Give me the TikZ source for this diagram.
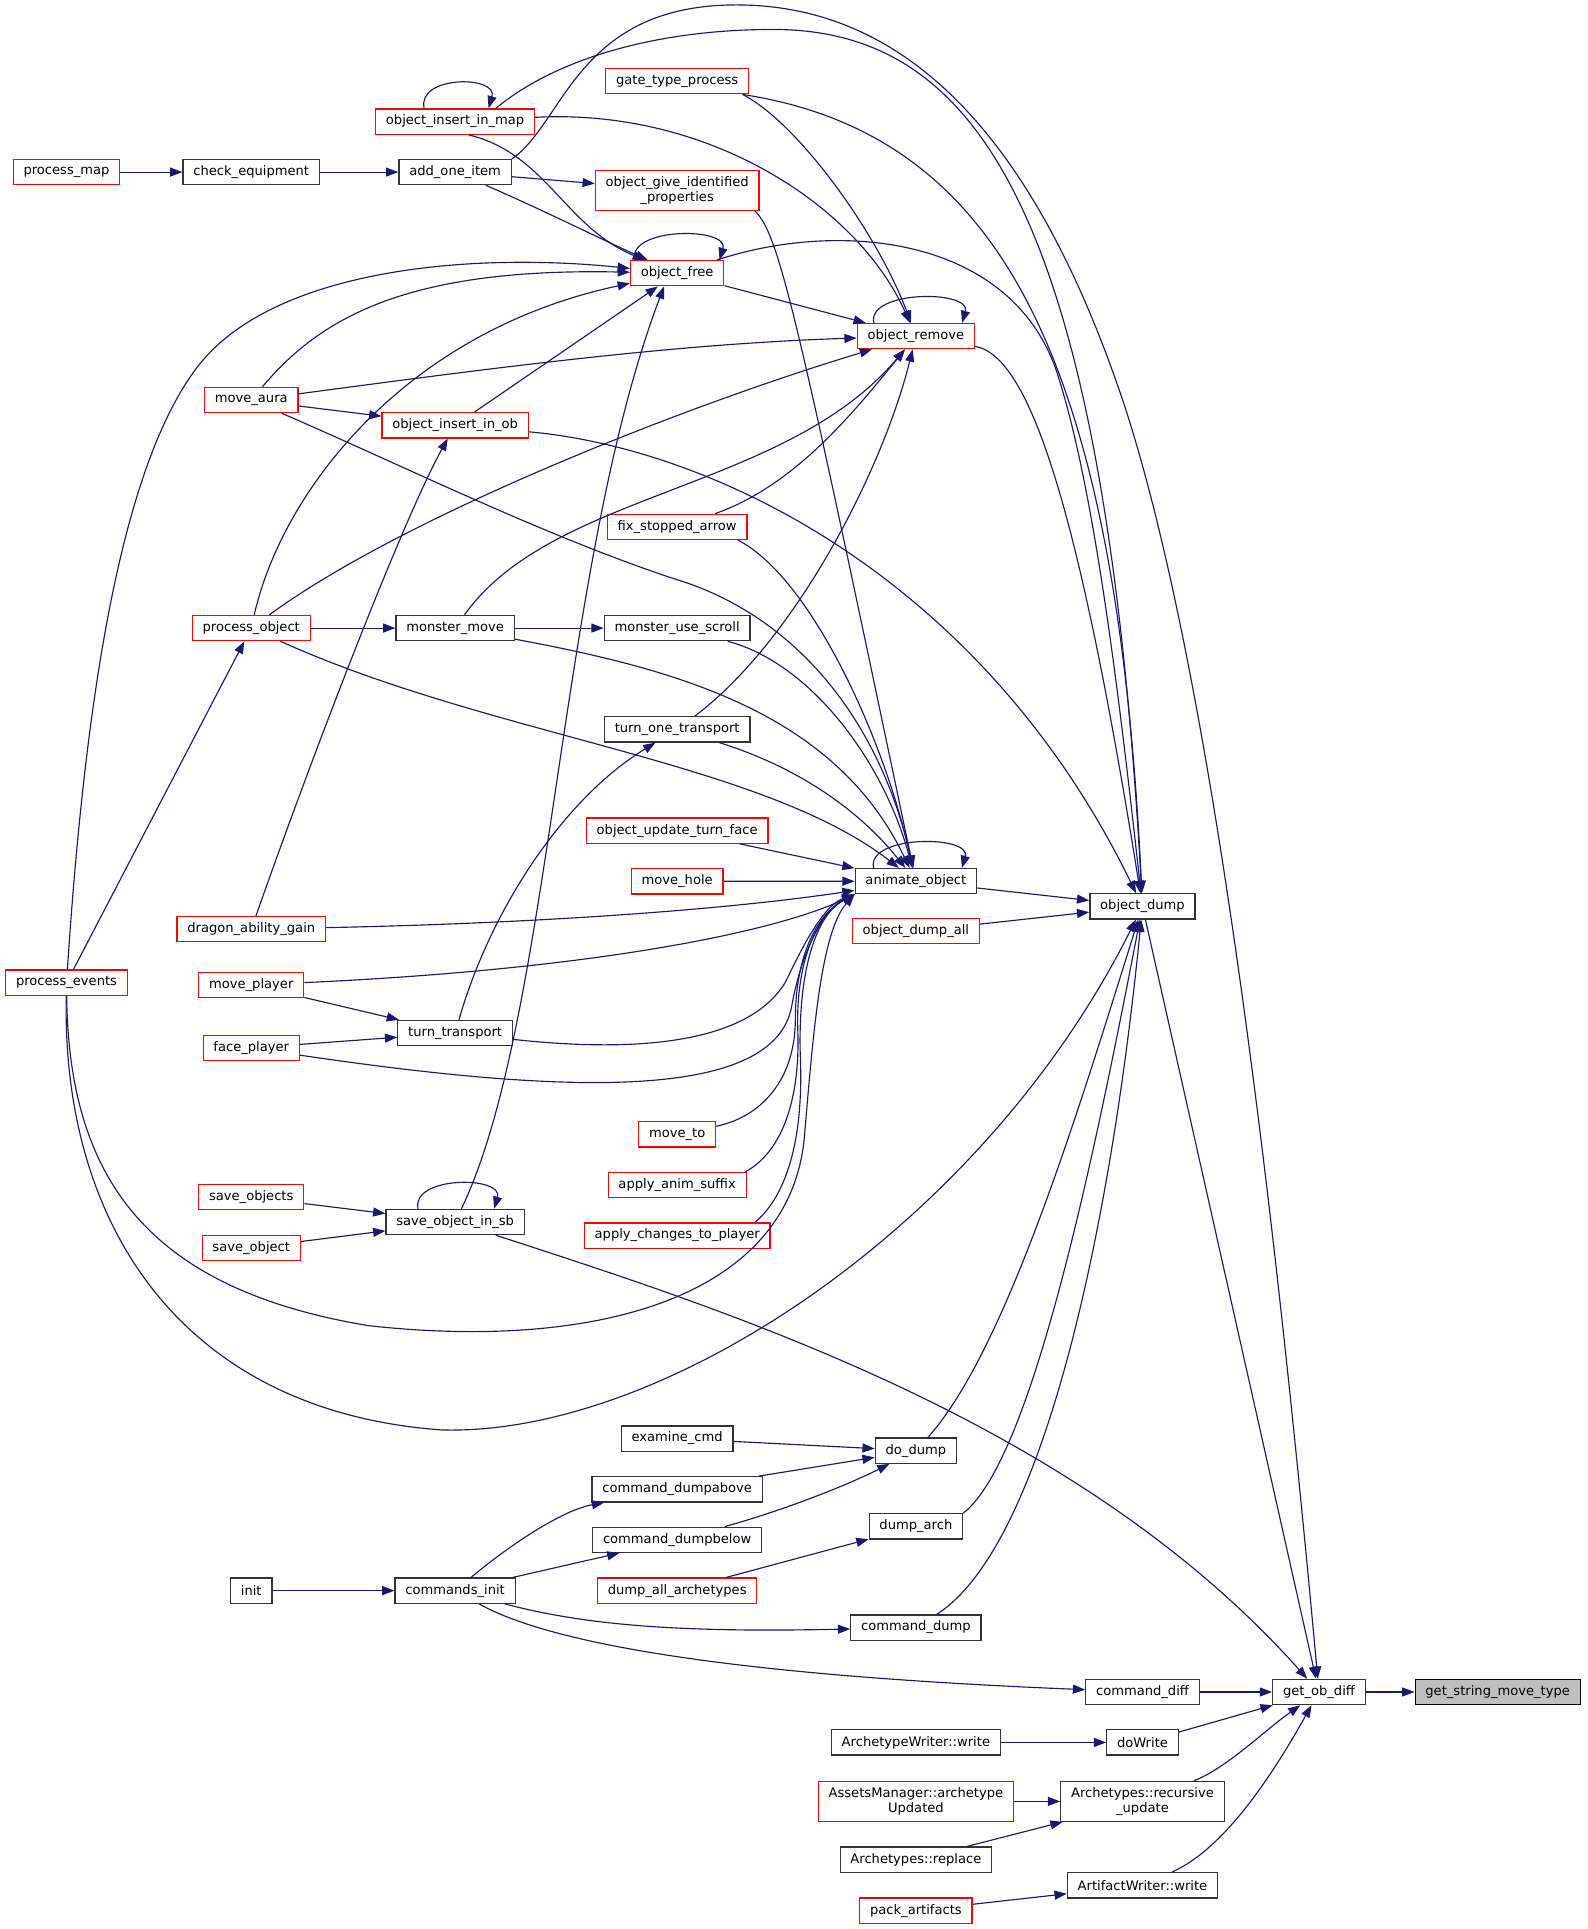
\documentclass[tikz,border=0pt]{standalone}
\usepackage{fontspec}
\newfontfamily\dejavu{DejaVu Sans}
\usetikzlibrary{arrows.meta}
\definecolor{edgeblue}{HTML}{191970}
\definecolor{boxgrey}{HTML}{333333}
\definecolor{rootgrey}{HTML}{BFBFBF}
\tikzset{>={Triangle[length=7.5pt,width=5.5pt]},
  fn/.style={draw=boxgrey, fill=white, line width=0.75pt, align=center,
    font=\dejavu\fontsize{8}{9}\selectfont, inner xsep=6.3pt, inner ysep=0pt,
    minimum height=15.4pt},
  fnred/.style={fn, draw=red},
  fnroot/.style={fn, draw=black, fill=rootgrey},
  call/.style={->, draw=edgeblue, line width=0.7pt}}

\begin{document}
\begin{tikzpicture}[x=0.75pt, y=-0.75pt]
  \useasboundingbox (0,0) rectangle (1293,1571.6);
  % callers, right to left
  \node[fnred] (processmap) at (54.2,140.2) {process\_map};
  \node[fn] (checkequip) at (204.7,140.2) {check\_equipment};
  \node[fn] (addoneitem) at (370.8,140.2) {add\_one\_item};
  \node[fnred] (insmap) at (370.8,99) {object\_insert\_in\_map};
  \node[fnred] (gatetype) at (551.7,66.2) {gate\_type\_process};
  \node[fnred, minimum height=24.3pt] (giveident) at (551.7,155) {object\_give\_identified\\\_properties};
  \node[fnred] (objfree) at (551.7,222.6) {object\_free};
  \node[fnred] (objremove) at (746.2,273.9) {object\_remove};
  \node[fnred] (moveaura) at (204.7,326) {move\_aura};
  \node[fnred] (insob) at (370.8,346.5) {object\_insert\_in\_ob};
  \node[fnred] (fixarrow) at (551.7,429.2) {fix\_stopped\_arrow};
  \node[fnred] (procobj) at (204.7,511.7) {process\_object};
  \node[fn] (monstermove) at (370.8,511.7) {monster\_move};
  \node[fn] (usescroll) at (551.7,511.7) {monster\_use\_scroll};
  \node[fn] (turnone) at (551.7,594.3) {turn\_one\_transport};
  \node[fnred] (turnface) at (551.7,676.7) {object\_update\_turn\_face};
  \node[fnred] (movehole) at (551.7,718) {move\_hole};
  \node[fn] (animate) at (746.2,717.9) {animate\_object};
  \node[fn] (objdump) at (930.8,738.4) {object\_dump};
  \node[fnred] (dumpall) at (746.2,758.6) {object\_dump\_all};
  \node[fnred] (dragon) at (204.7,757) {dragon\_ability\_gain};
  \node[fnred] (procevents) at (54.2,800.6) {process\_events};
  \node[fnred] (moveplayer) at (204.7,802.5) {move\_player};
  \node[fn] (turntransport) at (370.8,841.6) {turn\_transport};
  \node[fnred] (faceplayer) at (204.7,853.8) {face\_player};
  \node[fnred] (moveto) at (551.7,924.2) {move\_to};
  \node[fnred] (animsuffix) at (551.7,965.5) {apply\_anim\_suffix};
  \node[fnred] (applychanges) at (551.7,1006.6) {apply\_changes\_to\_player};
  \node[fnred] (saveobjects) at (204.7,975.3) {save\_objects};
  \node[fn] (savesb) at (370.8,995.6) {save\_object\_in\_sb};
  \node[fnred] (saveobject) at (204.7,1016.6) {save\_object};
  \node[fn] (examine) at (551.7,1172) {examine\_cmd};
  \node[fn] (dodump) at (746.2,1181.9) {do\_dump};
  \node[fn] (dumpabove) at (551.7,1213.4) {command\_dumpabove};
  \node[fn] (dumparch) at (746.2,1243.6) {dump\_arch};
  \node[fn] (dumpbelow) at (551.7,1254.5) {command\_dumpbelow};
  \node[fn] (init) at (204.7,1295.9) {init};
  \node[fn] (cmdinit) at (370.8,1295.9) {commands\_init};
  \node[fnred] (dumpallarch) at (551.7,1295.9) {dump\_all\_archetypes};
  \node[fn] (cmddump) at (746.2,1326) {command\_dump};
  \node[fn] (cmddiff) at (930.8,1378.5) {command\_diff};
  \node[fn] (getobdiff) at (1074.6,1378.5) {get\_ob\_diff};
  \node[fnroot] (getstring) at (1220.2,1378.5) {get\_string\_move\_type};
  \node[fn] (archwriter) at (746.2,1419.6) {ArchetypeWriter::write};
  \node[fn] (dowrite) at (930.8,1419.6) {doWrite};
  \node[fnred, minimum height=24.3pt] (assets) at (746.2,1467.6) {AssetsManager::archetype\\Updated};
  \node[fn, minimum height=24.3pt] (recursive) at (930.8,1467.6) {Archetypes::recursive\\\_update};
  \node[fn] (replace) at (746.2,1515) {Archetypes::replace};
  \node[fn] (artwriter) at (930.8,1536) {ArtifactWriter::write};
  \node[fnred] (packart) at (746.2,1556.6) {pack\_artifacts};

  % straight calls
  \path (processmap) edge[call] (checkequip)
    (checkequip) edge[call] (addoneitem)
    (addoneitem) edge[call] (giveident)
    (objfree) edge[call] (objremove)
    (insob) edge[call] (objfree)
    (moveaura) edge[call] (insob)
    (procevents) edge[call] (procobj)
    (procobj) edge[call] (monstermove)
    (monstermove) edge[call] (usescroll)
    (turnface) edge[call] (animate)
    (movehole) edge[call] (animate)
    (animate) edge[call] (objdump)
    (dumpall) edge[call] (objdump)
    (objdump) edge[call] (getobdiff)
    (moveplayer) edge[call] (turntransport)
    (faceplayer) edge[call] (turntransport)
    (saveobjects) edge[call] (savesb)
    (saveobject) edge[call] (savesb)
    (examine) edge[call] (dodump)
    (dumpabove) edge[call] (dodump)
    (dumpallarch) edge[call] (dumparch)
    (init) edge[call] (cmdinit)
    (cmdinit) edge[call] (dumpbelow)
    (cmddiff) edge[call] (getobdiff)
    (dowrite) edge[call] (getobdiff)
    (getobdiff) edge[call] (getstring)
    (archwriter) edge[call] (dowrite)
    (assets) edge[call] (recursive)
    (replace) edge[call] (recursive)
    (packart) edge[call] (artwriter);

  % recursion
  \draw[call] ([xshift=30pt]insmap.north west) .. controls +(-6,-27) and +(8,-27) .. ([xshift=-28.5pt]insmap.north east);
  \draw[call] ([xshift=3pt]objfree.north west) .. controls +(-6,-27) and +(8,-27) .. ([xshift=-3pt]objfree.north east);
  \draw[call] ([xshift=10.5pt]objremove.north west) .. controls +(-6,-27) and +(8,-27) .. ([xshift=-8pt]objremove.north east);
  \draw[call] ([xshift=11.6pt]animate.north west) .. controls +(-6,-27) and +(8,-27) .. ([xshift=-9.4pt]animate.north east);
  \draw[call] ([xshift=20pt]savesb.north west) .. controls +(-6,-27) and +(8,-27) .. ([xshift=-18.8pt]savesb.north east);

  % object_free
  \draw[call] ([xshift=8pt]insmap.south) .. controls (445,125) and (460,185) .. (objfree);
  \draw[call] (addoneitem) .. controls (440,170) and (490,195) .. (objfree);
  \draw[call] (moveaura) .. controls (260,260) and (330,218) .. (objfree);
  \draw[call] (procevents) .. controls (70,560) and (100,380) .. (160,300)
    .. controls (220,220) and (380,205) .. (objfree);
  \draw[call] (procobj) .. controls (230,400) and (330,270) .. (objfree);
  \draw[call] (savesb) .. controls (450,830) and (455,460) .. ([xshift=-8pt]objfree.south);

  % object_remove
  \draw[call] ([xshift=40pt]gatetype.south) .. controls (650,100) and (715,190) .. (objremove);
  \draw[call] (insmap) .. controls (580,88) and (700,170) .. (objremove);
  \draw[call] (moveaura) .. controls (400,300) and (550,280) .. (objremove);
  \draw[call] (procobj) .. controls (330,420) and (560,330) .. (objremove);
  \draw[call] (monstermove) .. controls (450,400) and (640,400) .. (objremove);
  \draw[call] (fixarrow) .. controls (650,395) and (700,330) .. (objremove);
  \draw[call] (turnone) .. controls (650,520) and (720,380) .. (objremove);

  % animate_object
  \draw[call] ([xshift=-3pt]giveident.south east) .. controls (635,190) and (650,260) .. (animate);
  \draw[call] (moveaura) .. controls (330,380) and (450,440) .. (560,475)
    .. controls (660,510) and (720,600) .. (animate);
  \draw[call] (procobj) .. controls (400,600) and (620,620) .. (animate);
  \draw[call] (monstermove) .. controls (550,545) and (680,580) .. (animate);
  \draw[call] (usescroll) .. controls (660,540) and (720,620) .. (animate);
  \draw[call] ([xshift=-6pt]fixarrow.south east) .. controls (660,470) and (720,600) .. (animate);
  \draw[call] (turnone) .. controls (650,625) and (700,660) .. (animate);
  \draw[call] (dragon) .. controls (450,752) and (600,740) .. (animate);
  \draw[call] (moveplayer) .. controls (480,790) and (630,760) .. (animate.south west);
  \draw[call] (turntransport) .. controls (520,858) and (610,850) .. (640,800)
    .. controls (652,775) and (670,738) .. (animate.south west);
  \draw[call] (faceplayer) .. controls (450,890) and (630,900) .. (645,820)
    .. controls (650,790) and (665,745) .. (animate.south west);
  \draw[call] (moveto) .. controls (620,910) and (648,880) .. (648,830)
    .. controls (648,780) and (665,745) .. (animate.south west);
  \draw[call] ([xshift=-1pt]animsuffix.north east) .. controls (635,940) and (652,900) .. (650,840)
    .. controls (648,785) and (665,745) .. (animate.south west);
  \draw[call] ([xshift=-9.5pt]applychanges.north east) .. controls (640,975) and (655,930) .. (652,860)
    .. controls (650,790) and (665,745) .. (animate.south west);
  \draw[call] (procevents) .. controls (56,960) and (120,1050) .. (300,1080)
    .. controls (480,1100) and (640,1060) .. (655,930)
    .. controls (662,850) and (668,760) .. (animate.south west);

  % object_dump
  \draw[call] ([xshift=-24pt]insmap.north east) .. controls (450,50) and (530,24) .. (630,24)
    .. controls (800,24) and (900,180) .. (objdump);
  \draw[call] ([xshift=40pt]gatetype.south) .. controls (820,110) and (910,300) .. (objdump);
  \draw[call] (objfree) .. controls (680,180) and (820,190) .. (860,300)
    .. controls (890,390) and (910,550) .. (objdump);
  \draw[call] (objremove) .. controls (840,290) and (880,420) .. (objdump);
  \draw[call] (insob) .. controls (580,365) and (800,470) .. (objdump);
  \draw[call] (procevents) .. controls (50,1000) and (150,1150) .. (360,1165)
    .. controls (540,1170) and (800,1000) .. (objdump);
  \draw[call] (dodump) .. controls (820,1100) and (880,900) .. (objdump);
  \draw[call] (dumparch.north east) .. controls (840,1190) and (890,950) .. (objdump);
  \draw[call] (cmddump) .. controls (850,1260) and (905,1000) .. (objdump);

  % get_ob_diff
  \draw[call] (addoneitem.north east) .. controls (460,100) and (470,4) .. (600,4)
    .. controls (750,4) and (850,130) .. (917,333)
    .. controls (990,560) and (1040,1000) .. (getobdiff);
  \draw[call] (savesb) .. controls (600,1070) and (880,1160) .. (getobdiff);
  \draw[call] (recursive) .. controls (1000,1440) and (1030,1410) .. (getobdiff);
  \draw[call] (artwriter) .. controls (1000,1505) and (1040,1440) .. (getobdiff);

  % lower left
  \draw[call] (dragon) .. controls (260,600) and (330,420) .. (insob);
  \draw[call] (turntransport) .. controls (400,740) and (460,650) .. (turnone);
  \draw[call] (dumpbelow) .. controls (640,1230) and (690,1210) .. (dodump);
  \draw[call] (cmdinit) .. controls (420,1255) and (460,1230) .. (dumpabove);
  \draw[call] (cmdinit) .. controls (480,1325) and (560,1330) .. (cmddump);
  \draw[call] (cmdinit) .. controls (450,1340) and (600,1365) .. (cmddiff);
\end{tikzpicture}
\end{document}
